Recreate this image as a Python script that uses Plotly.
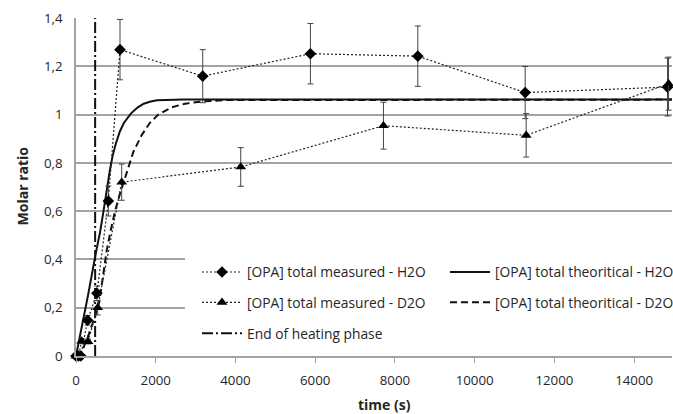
import plotly.graph_objects as go

# ---- data ----
meas_h2o_t = [0, 60, 120, 290, 525, 811, 1104, 3179, 5880, 8574, 11267, 14838]
meas_h2o_v = [0, 0, 0, 0.148, 0.26, 0.642, 1.269, 1.159, 1.252, 1.242, 1.091, 1.114]
meas_h2o_err = [0, 0, 0, 0.02, 0.03, 0.062, 0.125, 0.11, 0.125, 0.125, 0.108, 0.12]

meas_d2o_t = [0, 60, 143, 300, 544, 1146, 4132, 7712, 11292, 14864]
meas_d2o_v = [0, 0, 0.062, 0.06, 0.2, 0.72, 0.783, 0.954, 0.914, 1.128]
meas_d2o_err = [0, 0, 0.01, 0.01, 0.03, 0.075, 0.08, 0.097, 0.09, 0.11]

theo_h2o_t = [0, 150, 300, 490, 600, 690, 780, 850, 920, 1000, 1100, 1200, 1380, 1550, 1700, 1850, 2030, 2300, 2700, 15000]
theo_h2o_v = [0, 0.12, 0.25, 0.42, 0.51, 0.60, 0.70, 0.77, 0.83, 0.88, 0.93, 0.965, 1.005, 1.03, 1.045, 1.053, 1.059, 1.061, 1.062, 1.062]

theo_d2o_t = [0, 150, 300, 450, 580, 680, 770, 870, 979, 1100, 1292, 1438, 1648, 1850, 2065, 2400, 2735, 3200, 3800, 15000]
theo_d2o_v = [0, 0.02, 0.08, 0.15, 0.22, 0.33, 0.437, 0.52, 0.6, 0.67, 0.769, 0.845, 0.915, 0.965, 1.0, 1.03, 1.045, 1.055, 1.06, 1.062]

end_heating_t = 480
y_span = [0, 1.4]

x_tick_vals = [0, 2000, 4000, 6000, 8000, 10000, 12000, 14000]
x_tick_text = ["0", "2000", "4000", "6000", "8000", "10000", "12000", "14000"]
y_tick_vals = [0, 0.2, 0.4, 0.6, 0.8, 1.0, 1.2, 1.4]
y_tick_text = ["0", "0,2", "0,4", "0,6", "0,8", "1", "1,2", "1,4"]

names = ["[OPA] total measured - H2O", "[OPA] total theoritical - H2O",
         "[OPA] total measured - D2O", "[OPA] total theoritical - D2O",
         "End of heating phase"]

FONT = "Open Sans"
FS = 13.3
LFS = 13.8
TXT = "#262626"
GRID = "#a3a3a3"

fig = go.Figure()

fig.add_trace(go.Scatter(
    x=[end_heating_t, end_heating_t], y=y_span, mode="lines", name=names[4],
    line=dict(color="#111", width=2, dash="11px,3px,2px,3px"), legend="legend5"))

fig.add_trace(go.Scatter(
    x=theo_h2o_t, y=theo_h2o_v, mode="lines", name=names[1],
    line=dict(color="#111", width=2), legend="legend2"))
fig.add_trace(go.Scatter(
    x=theo_d2o_t, y=theo_d2o_v, mode="lines", name=names[3],
    line=dict(color="#111", width=2, dash="7px,4px"), legend="legend4"))

fig.add_trace(go.Scatter(
    x=meas_h2o_t, y=meas_h2o_v, mode="lines+markers", name=names[0],
    line=dict(color="#222", width=1.2, dash="2px,2px"),
    marker=dict(symbol="diamond", size=9, color="black"),
    error_y=dict(type="data", array=meas_h2o_err, color="#444", thickness=1, width=3),
    cliponaxis=False, legend="legend"))
fig.add_trace(go.Scatter(
    x=meas_d2o_t, y=meas_d2o_v, mode="lines+markers", name=names[2],
    line=dict(color="#222", width=1.2, dash="2px,2px"),
    marker=dict(symbol="triangle-up", size=9.5, color="black"),
    error_y=dict(type="data", array=meas_d2o_err, color="#444", thickness=1, width=3),
    cliponaxis=False, legend="legend3"))

W, H = 673, 414
L, R, T, B = 76, 1, 17.5, 58.3
pw, ph = W - L - R, H - T - B

def px2paper_x(px):
    return (px - L) / pw

def px2paper_y(py):
    return (H - B - py) / ph

leg_common = dict(bgcolor="rgba(0,0,0,0)", font=dict(family=FONT, size=LFS, color=TXT),
                  itemwidth=40, xanchor="left", yanchor="middle", borderwidth=0)
col1 = px2paper_x(197)
col2 = px2paper_x(445)
layout_legends = dict(
    legend=dict(x=col1, y=px2paper_y(271.7), **leg_common),
    legend2=dict(x=col2, y=px2paper_y(271.7), **leg_common),
    legend3=dict(x=col1, y=px2paper_y(302), **leg_common),
    legend4=dict(x=col2, y=px2paper_y(302), **leg_common),
    legend5=dict(x=col1, y=px2paper_y(333), **leg_common),
)

fig.update_layout(
    width=W, height=H, margin=dict(l=L, r=R, t=T, b=B, autoexpand=False),
    paper_bgcolor="white", plot_bgcolor="white",
    font=dict(family=FONT, size=FS, color=TXT),
    showlegend=True,
    xaxis=dict(range=[0, 14950], tickvals=x_tick_vals, ticktext=x_tick_text,
               showgrid=False, zeroline=False, showline=True, linecolor=GRID, linewidth=1.5,
               ticks="outside", ticklen=5, tickcolor=GRID, tickwidth=1,
               ticklabelstandoff=6, tickfont=dict(family=FONT, size=FS, color=TXT)),
    yaxis=dict(range=[0, 1.4], tickvals=y_tick_vals, ticktext=y_tick_text,
               showgrid=True, gridcolor=GRID, gridwidth=1.5, zeroline=False,
               showline=True, linecolor=GRID, linewidth=1.5, ticks="",
               ticklabelstandoff=9, tickfont=dict(family=FONT, size=FS, color=TXT)),
    shapes=[dict(type="rect", xref="paper", yref="paper",
                 x0=px2paper_x(185), x1=1.02, y0=px2paper_y(348), y1=px2paper_y(245),
                 fillcolor="white", line=dict(width=0), layer="above")],
    annotations=[
        dict(text="<b>time (s)</b>", xref="paper", yref="paper",
             x=px2paper_x(385), y=px2paper_y(404.5), showarrow=False,
             xanchor="center", yanchor="middle", font=dict(family=FONT, size=14, color=TXT)),
        dict(text="<b>Molar ratio</b>", xref="paper", yref="paper",
             x=px2paper_x(22), y=px2paper_y(186), showarrow=False, textangle=-90,
             xanchor="center", yanchor="middle", font=dict(family=FONT, size=14, color=TXT)),
    ],
    **layout_legends,
)

fig.write_html("out.html")
